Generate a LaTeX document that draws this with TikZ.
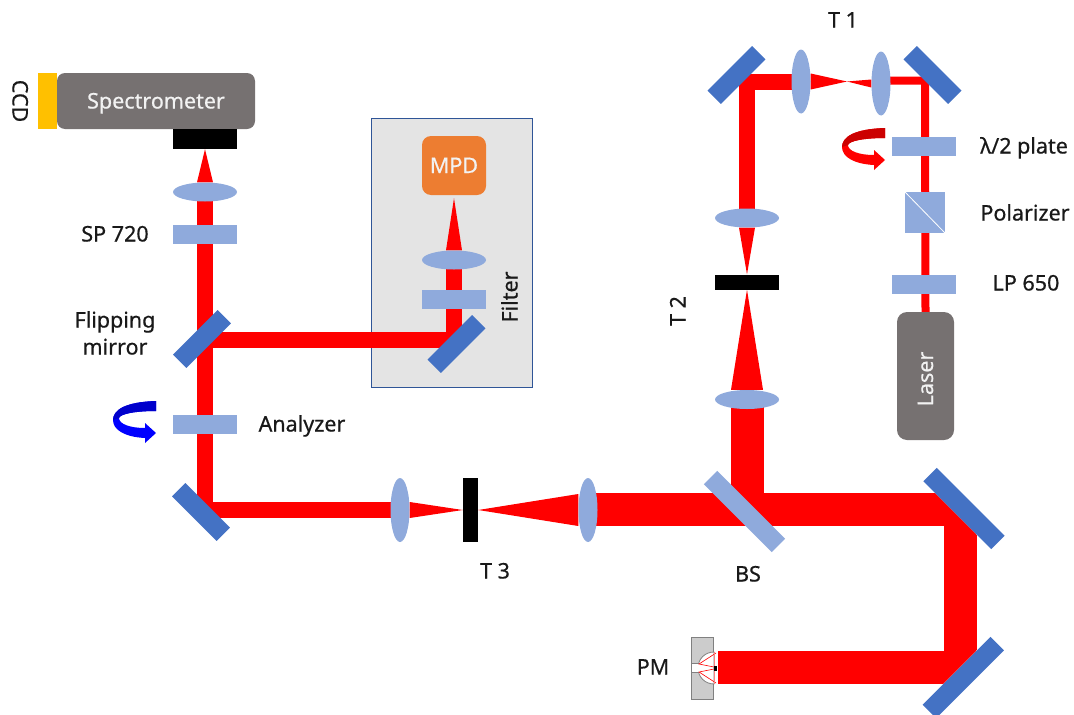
\documentclass[tikz,border=0pt]{standalone}
\usepackage{fontspec}
\setmainfont[FakeBold=0.6]{Noto Sans}
\usepackage{xcolor}
\usepackage{tikz}
\usetikzlibrary{arrows.meta,positioning,shapes.geometric,calc}
\definecolor{lensblue}{HTML}{8FAADC}
\definecolor{mirrorblue}{HTML}{4472C4}
\definecolor{boxgray}{HTML}{767171}
\definecolor{panelgray}{HTML}{E4E4E4}
\definecolor{panelline}{HTML}{2F5597}
\definecolor{mpdorange}{HTML}{ED7D31}
\definecolor{ccdyellow}{HTML}{FFC000}
\pgfdeclarelayer{panel}
\pgfdeclarelayer{beamlayer}
\pgfsetlayers{panel,beamlayer,main}
\tikzset{
  platebox/.style={draw=none, fill=lensblue, minimum width=64pt, minimum height=19pt, inner sep=0pt},
  stopbar/.style={draw=none, fill=black, inner sep=0pt},
  lensv/.style={ellipse, draw=none, fill=lensblue, minimum width=64pt, minimum height=19pt, inner sep=0pt},
  lensh/.style={ellipse, draw=none, fill=lensblue, minimum width=19pt, minimum height=64pt, inner sep=0pt},
  mirrorbox/.style={draw=none, fill=mirrorblue, minimum width=63pt, minimum height=19pt, inner sep=0pt},
  devicebox/.style={draw=none, fill=boxgray, rounded corners=8pt, inner sep=0pt, text=white!95!black,
                    font=\fontsize{21.5}{25}\selectfont, text height=15pt, text depth=0pt},
  beamline/.style={draw=red, line width=16pt, line join=miter},
  thinbeam/.style={draw=red, line width=8pt, line join=miter},
  widebeam/.style={draw=red, line width=33pt, line join=miter},
  lbl/.style={font=\fontsize{21.5}{25}\selectfont, inner sep=0pt, text=black!90, text height=15pt, text depth=0pt}
}
% cone of light: start anchor, half width vector, tip
\newcommand{\beamcone}[3]{\fill[red] ($(#1)+(#2)$) -- ($(#1)-(#2)$) -- (#3) -- cycle;}
% turning arrow round a plate: position of tip, dark colour, bright colour
\newcommand{\turnarrow}[3]{
  \begin{scope}[shift={(#1)}]
    \fill[#3] (0,-32) .. controls (-31,-31) and (-43,-23) .. (-43,-13)
      .. controls (-43,-3) and (-31,4) .. (-11,5) -- (-11,10) -- (0,0) -- (-11,-10) -- (-11,-5)
      .. controls (-26,-5) and (-37,-9) .. (-37,-15) .. controls (-36,-19) and (-21,-22) .. (0,-22) -- cycle;
    \fill[#2] (0,-32) .. controls (-31,-31) and (-43,-23) .. (-43,-13)
      -- (-37,-15) .. controls (-36,-19) and (-21,-22) .. (0,-22) -- cycle;
  \end{scope}
}
\begin{document}
\begin{tikzpicture}[x=1pt,y=-1pt]
    \useasboundingbox (0,0) rectangle (1074,715);

    % Filter panel
    \begin{pgfonlayer}{panel}
      \node[draw=panelline, line width=1.2pt, fill=panelgray, minimum width=161pt,
            minimum height=269pt, inner sep=0pt] (FilterBox) at (452,253) {};
    \end{pgfonlayer}

    % Spectrometer arm
    \node[devicebox, minimum width=198pt, minimum height=56pt] (Spec) at (156,101) {Spectrometer};
    \node[fill=ccdyellow, inner sep=0pt, minimum width=19pt, minimum height=56pt] (CCD) at (47.5,101) {};
    \node[lbl, rotate=-90] (CCDlabel) at (20,101) {CCD};
    \node[stopbar, minimum width=64pt, minimum height=20pt] (SpecSlit) at (205,139) {};
    \node[lensv] (LensSpec) at (205,192) {};
    \node[platebox] (SP) at (205,234) {};
    \node[lbl] (SPlabel) at (115,234) {SP 720};
    \node[mirrorbox, rotate=45] (FlipM) at (202,339) {};
    \node[lbl] (FlipLabelA) at (115,320) {Flipping};
    \node[lbl] (FlipLabelB) at (115,347) {mirror};
    \node[platebox] (Analyzer) at (205,424) {};
    \node[lbl] (AnalyzerLabel) at (302,424) {Analyzer};
    \node[mirrorbox, rotate=-45] (MAn) at (201,512) {};

    % MPD arm
    \node[devicebox, fill=mpdorange, minimum width=64pt, minimum height=59pt, rounded corners=9pt] (MPD) at (454,165.5) {MPD};
    \node[lensv] (LensMPD) at (454,260) {};
    \node[platebox] (FilterPl) at (454,299.5) {};
    \node[mirrorbox, rotate=45] (MMPD) at (456.5,344) {};
    \node[lbl, rotate=90] (FilterLabel) at (510,297) {Filter};

    % Laser arm
    \node[devicebox, minimum width=57pt, minimum height=128pt, rounded corners=10pt] (Laser) at (925.5,376) {};
    \node[lbl, rotate=90, text=white!95!black] (LaserLabel) at (925.5,379) {Laser};
    \node[platebox] (LP) at (924,284.5) {};
    \node[lbl] (LPlabel) at (1026,283) {LP 650};
    \node[fill=lensblue, inner sep=0pt, minimum width=40pt, minimum height=41pt] (Pol) at (925,212.5) {};
    \draw[white, line width=0.8pt] (Pol.north west) -- (Pol.south east);
    \node[lbl] (PolLabel) at (1025,213) {Polarizer};
    \node[platebox] (HWP) at (924,146.5) {};
    \node[lbl] (HWPlabel) at (1024,146) {λ/2 plate};
    \node[mirrorbox, rotate=-45] (MTR) at (932.5,75) {};
    \node[lensh] (LensT1b) at (881,83.5) {};
    \node[lensh] (LensT1a) at (801,81.5) {};
    \node[lbl] (T1label) at (843,20) {T 1};
    \node[mirrorbox, rotate=45] (MTL) at (736.5,75) {};

    % T 2
    \node[lensv] (LensT2a) at (747,218) {};
    \node[stopbar, minimum width=64pt, minimum height=15pt] (T2) at (747,282) {};
    \node[lbl, rotate=90] (T2label) at (678,311) {T 2};
    \node[lensv] (LensT2b) at (747,399.5) {};

    % T 3
    \node[lensh] (LensT3a) at (400,510) {};
    \node[stopbar, minimum width=15pt, minimum height=64pt] (T3) at (470.5,510) {};
    \node[lbl] (T3label) at (495,571) {T 3};
    \node[lensh] (LensT3b) at (588,510) {};
    \node[mirrorbox, fill=lensblue, minimum width=96pt, rotate=-45] (BS) at (744.5,511.5) {};
    \node[lbl] (BSlabel) at (748,574) {BS};

    % Folding mirrors and PM
    \node[mirrorbox, minimum width=96pt, rotate=-45] (MR1) at (964,508.5) {};
    \node[mirrorbox, minimum width=96pt, rotate=45] (MR2) at (963.3,677.5) {};
    \node[draw=gray, line width=1pt, fill=gray!40, inner sep=0pt, minimum width=22pt, minimum height=62pt] (PM) at (702,668) {};
    \node[lbl] (PMlabel) at (653,667) {PM};

    % Beam turning points
    \coordinate (hitFlip) at (205,340);
    \coordinate (hitMAn) at (205,510);
    \coordinate (hitMMPD) at (454,340);
    \coordinate (hitTL) at (747,81.5);
    \coordinate (hitTR) at (925,80.5);
    \coordinate (hitBS) at (747,510);
    \coordinate (hitR1) at (960.5,509.5);
    \coordinate (hitR2) at (960.5,667.5);
    \coordinate (focusT1) at (847,81.5);
    \coordinate (pmEnd) at (718,667.5);

    % Beams
    \begin{pgfonlayer}{beamlayer}
      \draw[thinbeam] (Laser.north) -- (hitTR) -- (LensT1b.center |- hitTR);
      \beamcone{LensT1b.west}{0,4}{focusT1}
      \beamcone{LensT1a.east}{0,8}{focusT1}
      \draw[beamline] (LensT1a.center) -- (hitTL) -- (LensT2a.center);
      \beamcone{LensT2a.south}{8,0}{T2.north}
      \beamcone{LensT2b.north}{16,0}{T2.south}
      \begin{scope}
        \clip (560,470) -- (912,470) -- (1000,558) -- (1000,627) -- (910,717) -- (560,717) -- cycle;
        \draw[widebeam] (pmEnd) -- (hitR2) -- (hitR1) -- (LensT3b.center |- hitR1);
      \end{scope}
      \draw[widebeam] (LensT2b.center) -- (hitBS);
      \beamcone{LensT3b.west}{0,16}{T3.east}
      \beamcone{LensT3a.east}{0,8}{T3.west}
      \draw[beamline] (LensT3a.center) -- (hitMAn) -- (LensSpec.center);
      \beamcone{LensSpec.north}{8,0}{SpecSlit.south}
      \draw[beamline] (hitFlip) -- (hitMMPD) -- (LensMPD.center);
      \coordinate (tipMPD) at ($(MPD.south)+(0,3)$);
      \beamcone{LensMPD.north}{8,0}{tipMPD}
    \end{pgfonlayer}

    % Rotation arrows
    \turnarrow{156,433}{blue!80!black}{blue}
    \turnarrow{885,160}{red!80!black}{red}

    % Inside of the PM
    \fill[white] (713,652) rectangle (718,684);
    \filldraw[draw=gray, fill=white, line width=0.8pt] (714,652) .. controls (705,652) and (698,659) .. (698,668)
      .. controls (698,677) and (705,684) .. (714,684) -- cycle;
    \fill[white] (692,663) rectangle (699,672);
    \draw[gray, line width=0.8pt] (691,663) -- (699,663) (691,672) -- (699,672);
    \draw[red, line width=0.6pt] (716,653) -- (699,664) -- (714,667) (716,683) -- (699,672) -- (714,669);
    \draw[red!50, line width=0.8pt] (714,652) -- (714,684);
    \fill[black] (714,666) rectangle (717,671);
\end{tikzpicture}
\end{document}
